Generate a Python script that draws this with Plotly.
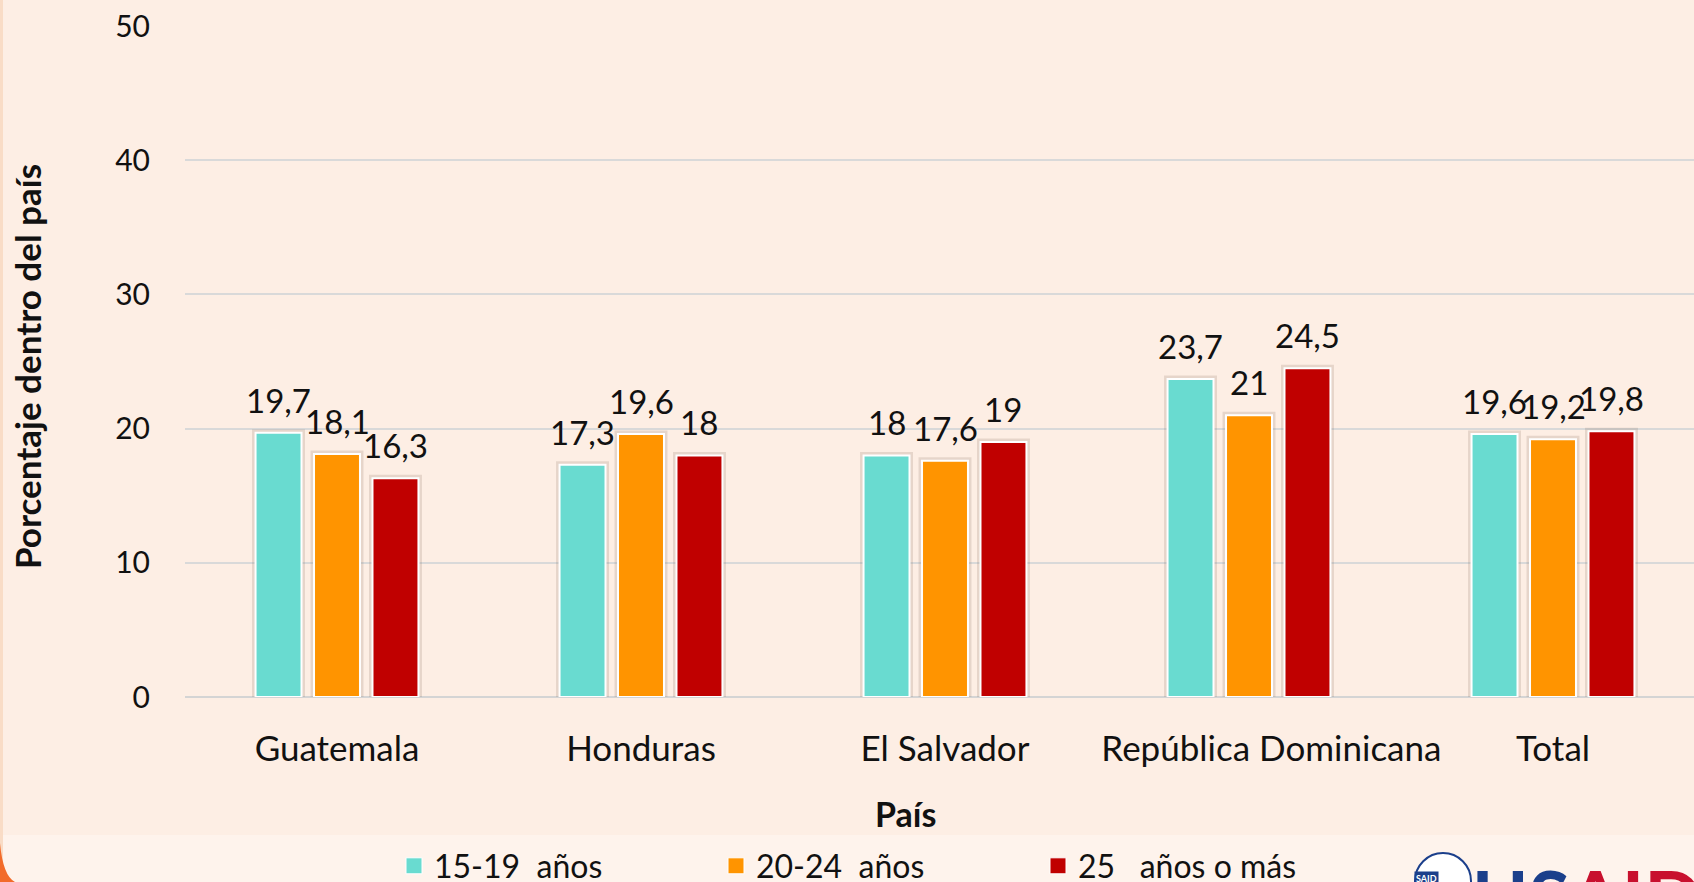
import plotly.graph_objects as go

# ---- data ----
categories = ["Guatemala", "Honduras", "El Salvador", "República Dominicana", "Total"]
tick_labels = ["Guatemala", "Honduras", "El Salvador",
               "&nbsp;&nbsp;&nbsp;&nbsp;&nbsp;República Dominicana", "Total"]
series_names = ["15-19&nbsp;&nbsp;años", "20-24&nbsp;&nbsp;años", "25&nbsp;&nbsp;&nbsp;años o más"]
vals_15_19 = [19.7, 17.3, 18, 23.7, 19.6]
vals_20_24 = [18.1, 19.6, 17.6, 21, 19.2]
vals_25_mas = [16.3, 18, 19, 24.5, 19.8]
y_ticks = [0, 10, 20, 30, 40, 50]

series = [vals_15_19, vals_20_24, vals_25_mas]
colors = ["#69DBD0", "#FF9400", "#C00000"]

W, H = 1694, 882
ML, MR, MT, MB = 185, 0, 26, 185
PW = W - ML - MR
PH = H - MT - MB

def px2x(px):
    return (px - ML) / PW

def py2y(py):
    return (H - MB - py) / PH

BARGAP = 0.423
GROUPGAP = 0.214
slot = (1 - BARGAP) / 3

FONT = "Lato"

fig = go.Figure()
for j, (vals, name, col) in enumerate(zip(series, series_names, colors)):
    # soft shadow halo
    fig.add_trace(go.Bar(
        x=categories, y=vals, showlegend=False, offsetgroup=str(j), hoverinfo="skip",
        marker=dict(color="rgba(0,0,0,0)", line=dict(color="rgba(110,85,70,0.16)", width=7)),
    ))
    fig.add_trace(go.Bar(
        x=categories, y=vals, name=name, showlegend=False, offsetgroup=str(j),
        marker=dict(color=col, line=dict(color="white", width=2)),
    ))

# legend proxies (larger square symbols)
for name, col in zip(series_names, colors):
    fig.add_trace(go.Scatter(
        x=[None], y=[None], mode="markers", name=name,
        marker=dict(symbol="square", size=20, color=col, line=dict(color="white", width=1)),
    ))

def fmt(v):
    return f"{v:g}".replace(".", ",")

annotations = []
for j, vals in enumerate(series):
    off = (j - 1) * slot
    for i, v in enumerate(vals):
        annotations.append(dict(
            x=i + off, y=v, xref="x", yref="y", text=fmt(v), showarrow=False,
            yanchor="bottom", xanchor="center", yshift=11,
            font=dict(family=FONT, size=33, color="#111111"),
        ))

# axis titles
annotations.append(dict(
    x=px2x(905), y=py2y(813), xref="paper", yref="paper", text="<b>País</b>",
    showarrow=False, xanchor="center", yanchor="middle",
    font=dict(family=FONT, size=34, color="#111111"),
))
annotations.append(dict(
    x=px2x(27), y=py2y(367), xref="paper", yref="paper",
    text="<b>Porcentaje dentro del país</b>", textangle=-90,
    showarrow=False, xanchor="center", yanchor="middle",
    font=dict(family=FONT, size=35, color="#111111"),
))
# partial logo text
annotations.append(dict(
    x=px2x(1470), y=py2y(897), xref="paper", yref="paper",
    text="<b><span style='color:#1B3F8B'>US</span><span style='color:#C8102E'>AID</span></b>",
    showarrow=False, xanchor="left", yanchor="middle",
    font=dict(family=FONT, size=76),
))
annotations.append(dict(
    x=px2x(1426), y=py2y(878), xref="paper", yref="paper",
    text="<b>SAID</b>", showarrow=False, xanchor="center", yanchor="middle",
    bgcolor="#1B3F8B", borderpad=1,
    font=dict(family=FONT, size=9, color="white"),
))

shapes = [
    # lighter band at bottom
    dict(type="rect", xref="paper", yref="paper", x0=px2x(0), x1=px2x(W),
         y0=py2y(835), y1=py2y(H), fillcolor="#FEF3EC", line=dict(width=0), layer="below"),
    # left edge line
    dict(type="rect", xref="paper", yref="paper", x0=px2x(0), x1=px2x(3),
         y0=py2y(0), y1=py2y(H), fillcolor="#F9DCC6", line=dict(width=0), layer="below"),
    # bottom-left orange corner
    dict(type="path", xref="paper", yref="paper",
         path=(f"M {px2x(0)},{py2y(843)} Q {px2x(3)},{py2y(876)} {px2x(15)},{py2y(H)} "
               f"L {px2x(0)},{py2y(H)} Z"),
         fillcolor="#F26B2A", line=dict(width=0), layer="above"),
    # seal
    dict(type="circle", xref="paper", yref="paper", x0=px2x(1415), x1=px2x(1471),
         y0=py2y(909), y1=py2y(853), fillcolor="white", line=dict(color="#1B3F8B", width=2),
         layer="below"),
]

fig.update_layout(
    width=W, height=H,
    margin=dict(l=ML, r=MR, t=MT, b=MB, pad=0, autoexpand=False),
    paper_bgcolor="#FDEEE4", plot_bgcolor="rgba(0,0,0,0)",
    barmode="group", bargap=BARGAP, bargroupgap=GROUPGAP,
    font=dict(family=FONT, color="#111111"),
    xaxis=dict(
        range=[-0.5, -0.5 + PW / 304], type="category", showgrid=False,
        tickmode="array", tickvals=categories, ticktext=tick_labels,
        showline=False, zeroline=False,
        ticks="outside", ticklen=21, tickcolor="rgba(0,0,0,0)",
        tickfont=dict(family=FONT, size=35, color="#111111"),
    ),
    yaxis=dict(
        range=[0, 50], tickvals=y_ticks, showgrid=True, gridcolor="#D9D9D9", gridwidth=1.5,
        zeroline=True, zerolinecolor="#D4D4D4", zerolinewidth=2, showline=False,
        ticks="outside", ticklen=28, tickcolor="rgba(0,0,0,0)",
        tickfont=dict(family=FONT, size=30, color="#111111"),
    ),
    legend=dict(
        orientation="h", x=px2x(394), xanchor="left", y=py2y(866), yanchor="middle",
        entrywidth=277, entrywidthmode="pixels", bgcolor="rgba(0,0,0,0)",
        font=dict(family=FONT, size=32, color="#111111"), traceorder="normal",
    ),
    annotations=annotations,
    shapes=shapes,
)

fig.write_html(
    "out.html",
    config={"displayModeBar": False},
    post_script="document.body.style.margin='0';document.body.style.overflow='hidden';",
)
